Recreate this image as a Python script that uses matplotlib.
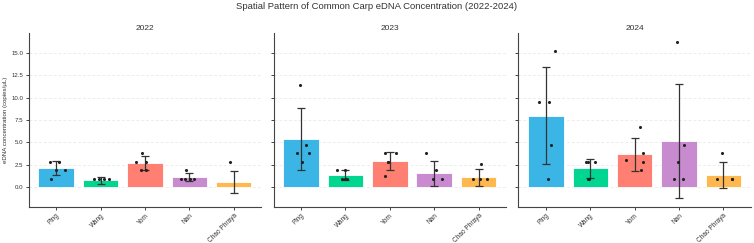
import matplotlib

matplotlib.use("Agg")

import matplotlib.pyplot as plt
import numpy as np

# sites and per-year sample values (copies/uL)
SITES = ["Ping", "Wang", "Yom", "Nan", "Chao Phraya"]
YEARS = ["2022", "2023", "2024"]

PING = {
    "2022": [2.86, 2.86, 1.91, 1.91, 0.95],
    "2023": [11.44, 4.76, 3.81, 3.81, 2.86],
    "2024": [15.25, 9.53, 9.53, 4.76, 0.95],
}
WANG = {
    "2022": [0.95, 0.95, 0.95, 0.95, 0.0],
    "2023": [1.91, 1.91, 0.95, 0.95, 0.95],
    "2024": [2.86, 2.86, 2.86, 0.95, 0.95],
}
YOM = {
    "2022": [3.81, 2.86, 2.86, 1.91, 1.91],
    "2023": [3.81, 3.81, 2.86, 2.86, 1.23],
    "2024": [6.70, 3.81, 3.05, 2.83, 1.91],
}
NAN = {
    "2022": [1.91, 0.95, 0.95, 0.95, 0.95],
    "2023": [3.81, 1.91, 0.95, 0.95, 0.0],
    "2024": [16.20, 4.76, 2.86, 0.95, 0.95],
}
CHAO_PHRAYA = {
    "2022": [2.86, 0.0, 0.0, 0.0, 0.0],
    "2023": [2.53, 0.95, 0.95, 0.95, 0.0],
    "2024": [3.81, 0.95, 0.95, 0.95, 0.0],
}
SITE_DATA = [PING, WANG, YOM, NAN, CHAO_PHRAYA]

# horizontal strip jitter (category units), one per sample
JITTER = {
    "2022": [
        [-0.15, 0.07, 0.0, 0.19, -0.11],
        [-0.15, -0.04, 0.07, 0.19, 0.0],
        [-0.06, -0.19, 0.02, -0.08, 0.03],
        [-0.08, -0.18, -0.09, 0.01, 0.11],
        [-0.09, 0.0, 0.0, 0.0, 0.0],
    ],
    "2023": [
        [-0.03, 0.12, -0.10, 0.18, 0.02],
        [-0.19, 0.0, -0.07, -0.01, 0.04],
        [-0.11, 0.15, -0.05, -0.04, -0.10],
        [-0.19, 0.04, -0.02, 0.18, 0.0],
        [0.05, -0.13, 0.03, 0.20, 0.0],
    ],
    "2024": [
        [0.20, -0.16, 0.07, 0.12, 0.05],
        [-0.10, -0.05, 0.11, -0.05, -0.03],
        [0.13, 0.19, -0.19, 0.19, 0.15],
        [-0.04, 0.10, -0.02, -0.12, 0.09],
        [-0.04, -0.15, 0.20, 0.20, 0.0],
    ],
}

COLORS = ["#3bb5e6", "#00d690", "#ff8073", "#c88bd0", "#ffb84d"]
TEXT = "#333333"

plt.rcParams.update(
    {
        "font.family": ["Liberation Sans", "DejaVu Sans"],
        "axes.edgecolor": "#444444",
        "axes.linewidth": 0.8,
        "xtick.color": "#444444",
        "ytick.color": "#444444",
        "xtick.labelcolor": TEXT,
        "ytick.labelcolor": TEXT,
        "xtick.major.size": 2.5,
        "ytick.major.size": 2.5,
        "xtick.major.width": 0.7,
        "ytick.major.width": 0.7,
    }
)

fig, axes = plt.subplots(1, 3, figsize=(7.54, 2.43), dpi=100, sharey=True)
fig.subplots_adjust(left=0.038, right=0.996, bottom=0.149, top=0.863, wspace=0.053)

x = np.arange(len(SITES))
for ax, year in zip(axes, YEARS):
    vals = [np.array(site[year]) for site in SITE_DATA]
    means = [v.mean() for v in vals]
    sds = [v.std(ddof=1) for v in vals]

    ax.grid(axis="y", color="#e4e4e4", linestyle=(0, (4, 3)), linewidth=0.5, zorder=0)
    ax.bar(x, means, width=0.8, color=COLORS, edgecolor="white", linewidth=0.6, zorder=2)
    ax.errorbar(
        x, means, yerr=sds, fmt="none", ecolor="#333333",
        elinewidth=0.9, capsize=2.6, capthick=0.9, zorder=3,
    )
    for i, v in enumerate(vals):
        jit = np.array(JITTER[year][i])
        keep = v > 0
        ax.scatter(x[i] + jit[keep], v[keep], s=5, color="#222222", zorder=4, linewidths=0)

    ax.set_title(year, fontsize=6, color=TEXT, pad=2.5)
    ax.set_xticks(x)
    ax.set_xticklabels(SITES, rotation=45, ha="right", rotation_mode="anchor", fontsize=4.7)
    ax.set_xlim(-0.62, 4.62)
    for side in ("top", "right"):
        ax.spines[side].set_visible(False)
    ax.tick_params(axis="y", labelsize=4.4, pad=1.5)
    ax.tick_params(axis="x", pad=1.5)

axes[0].set_ylim(-2.2, 17.2)
axes[0].set_yticks(np.arange(0, 15.1, 2.5))
axes[0].set_yticklabels([f"{t:.1f}" for t in np.arange(0, 15.1, 2.5)])
axes[0].set_ylabel("eDNA concentration (copies/μL)", fontsize=4.4, labelpad=2.5, color=TEXT)

fig.suptitle(
    "Spatial Pattern of Common Carp eDNA Concentration (2022-2024)",
    fontsize=6.8, y=0.993, color=TEXT,
)

fig.savefig("out.png", dpi=100, facecolor="white")
